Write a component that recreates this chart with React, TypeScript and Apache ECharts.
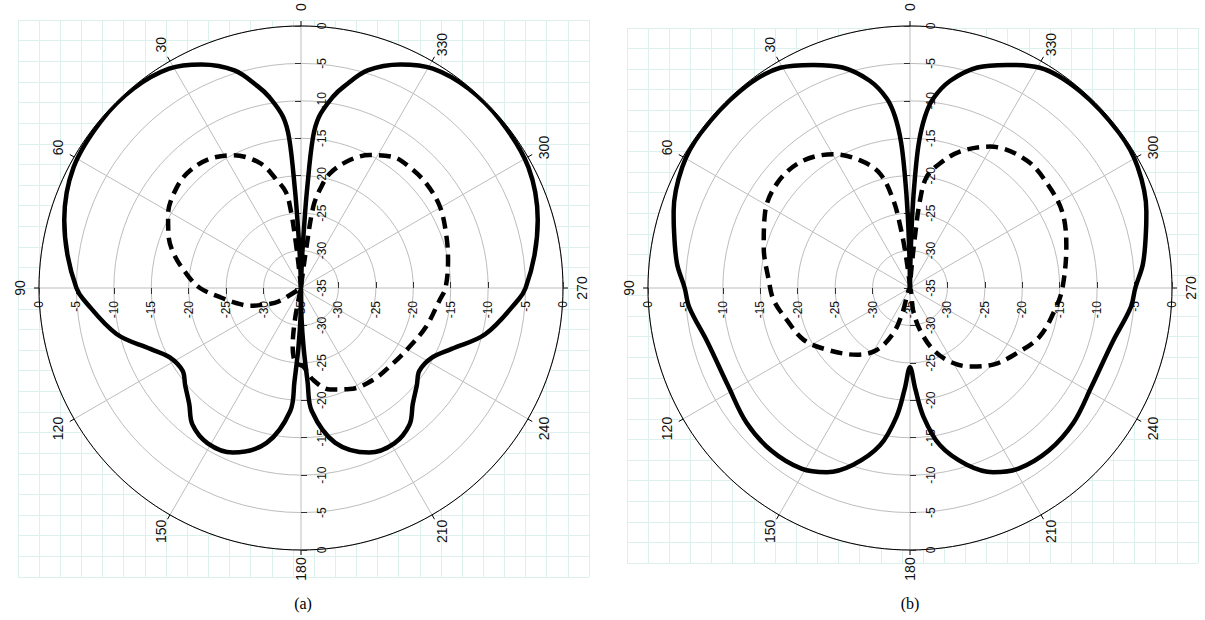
import { useEffect, useRef } from 'react';
import * as echarts from 'echarts';

// Angle tick labels (degrees, counter-clockwise from top)
const angleTicks = [0, 30, 60, 90, 120, 150, 180, 210, 240, 270, 300, 330];
const captions = ['(a)', '(b)'];

// (a) solid pattern
const aSolidAngles = [0, 2, 3, 3.5, 4.5, 6, 9.5, 12, 17, 24, 31, 40, 50, 62, 74, 82, 90, 93, 104, 112, 118, 125, 130, 136, 141.5, 149, 157.5, 167.5, 175, 176, 177.5, 179, 180,
  181, 182.5, 184, 185, 192.5, 202.5, 211, 218.5, 224, 230, 235, 242, 248, 256, 267, 270, 278, 286, 298, 310, 320, 329, 336, 343, 348, 350.5, 354, 355.5, 356.5, 357, 358, 360];
const aSolidValues = [-35, -31, -26, -22, -15, -12, -9.1, -7.5, -4.6, -2.3, -0.8, -0.2, -0.2, -0.6, -2.1, -3.5, -5.0, -5.9, -9.6, -13.3, -15.2, -15.7, -14.8, -13.5, -11.7, -10.8, -11.2, -13.8, -18.5, -22.5, -27, -31, -35,
  -31, -27, -22.5, -18.5, -13.8, -11.2, -10.8, -11.7, -13.5, -14.8, -15.7, -15.2, -13.3, -9.6, -5.9, -5.0, -3.5, -2.1, -0.6, -0.2, -0.2, -0.8, -2.3, -4.6, -7.5, -9.1, -12, -15, -22, -26, -31, -35];

// (a) dashed pattern
const aDashAngles = [0, 5, 6.5, 7.5, 9, 12.7, 18, 27, 36, 45, 53, 61, 68, 75, 83, 90, 97, 103, 109, 116, 121, 127, 166, 169, 172, 175, 178, 181.7, 187.6, 196, 205.8, 218.2, 230.8, 241.7, 252.9, 265.1, 270, 280.8, 290.6, 300.3, 309.8, 318.1, 324.9, 332.6, 339.1, 345.8, 349, 351.4, 352.5, 354, 360];
const aDashValues = [-35, -34, -29, -24.5, -22, -20.2, -17.5, -15.1, -13.8, -13.4, -13.8, -14.7, -15.9, -17.4, -19.6, -21.5, -24.3, -26.1, -27.7, -30.1, -31.5, -35, -35, -31, -27, -25.2, -24.8, -24.5, -22.6, -20.9, -20.0, -19.4, -19.1, -18.5, -17.5, -16.4, -15.7, -15.0, -14.3, -13.5, -13.2, -13.3, -13.6, -15.0, -16.7, -19.2, -21.5, -24.0, -30, -34, -35];

// (b) solid pattern
const bSolidAngles = [0, 1, 1.8, 2.6, 3.5, 5, 7, 11, 17, 23.5, 30.5, 41, 53.5, 62, 72, 76, 84, 90, 95, 105, 118.5, 129.5, 139.5, 149, 155.7, 162.2, 169.2, 174, 177, 180,
  183, 186, 190.8, 197.8, 204.3, 211, 220.5, 230.5, 241.5, 255, 265, 270, 276, 284, 288, 298, 306.5, 319, 329.5, 336.5, 343, 349, 353, 355, 356.5, 357.4, 358.2, 359, 360];
const bSolidValues = [-35, -31, -25, -20, -15.5, -12, -9.5, -6.8, -4.2, -2.5, -0.85, -0.25, -0.2, -0.55, -1.8, -2.5, -3.7, -4.9, -5.4, -7.0, -7.4, -6.7, -6.45, -6.85, -8.0, -10.2, -13.6, -17.7, -21.5, -24.4,
  -21.5, -17.7, -13.6, -10.2, -8.0, -6.85, -6.45, -6.7, -7.4, -7.0, -5.4, -4.9, -3.7, -2.5, -1.8, -0.55, -0.2, -0.25, -0.85, -2.5, -4.2, -6.8, -9.5, -12, -15.5, -20, -25, -31, -35];

// (b) dashed pattern
const bDashAngles = [0, 5, 7.5, 9, 10.7, 14.7, 21.3, 29.8, 41, 52, 62.7, 74.3, 86.8, 95, 104.5, 116, 126.7, 141.5, 151.8, 159.8, 163, 166, 185, 188, 193.4, 200.6, 208.5, 217.3, 227.3, 238.5, 249.5, 262.7, 270.5, 284.8, 296, 305.9, 317.6, 330.5, 339.9, 346.5, 351.5, 353.5, 354.5, 356, 360];
const bDashValues = [-35, -34, -30, -26.5, -23.1, -19.2, -16.7, -14.4, -12.7, -12.4, -13.2, -14.7, -16.1, -16.7, -18.0, -19.2, -21.2, -23.6, -25.6, -28.6, -31.5, -35, -35, -32, -29.2, -26.2, -23.8, -21.8, -19.9, -18.3, -16.5, -15.3, -14.6, -13.4, -12.3, -12.0, -11.9, -13.3, -15.6, -17.9, -20.0, -23.2, -28, -33, -35];

const FONT = 'Liberation Sans, Arial, sans-serif';
const RING = '#bdbdbd';
const GRIDLINE = '#dcf1ee';

const panels = [
  { center: [301, 288], radius: 262, solid: [aSolidAngles, aSolidValues], dash: [aDashAngles, aDashValues], cap: [303, 603],
    grid: { left: 18, top: 20, width: 571, height: 557 }, cols: 27, rows: 27 },
  { center: [910, 288], radius: 262, solid: [bSolidAngles, bSolidValues], dash: [bDashAngles, bDashValues], cap: [910, 603],
    grid: { left: 627, top: 28, width: 571, height: 535 }, cols: 27, rows: 26 },
];

function buildOption() {
  const polar: any[] = [];
  const angleAxis: any[] = [];
  const radiusAxis: any[] = [];
  const series: any[] = [];
  const grid: any[] = [];
  const xAxis: any[] = [];
  const yAxis: any[] = [];
  const graphic: any[] = [];

  const radialLabel = { rotate: 90, fontSize: 12, color: '#111', fontFamily: FONT };
  const tick = { show: true, length: 6, lineStyle: { color: '#333', width: 1 } };

  panels.forEach((p, k) => {
    const base = k * 4;
    // background paper grid
    grid.push({ ...p.grid });
    const hidden = { axisLine: { show: false }, axisTick: { show: false }, axisLabel: { show: false } };
    xAxis.push({ gridIndex: k, type: 'value', min: 0, max: p.cols, interval: 1, z: -5, ...hidden, splitLine: { show: true, lineStyle: { color: GRIDLINE, width: 1 } } });
    yAxis.push({ gridIndex: k, type: 'value', min: 0, max: p.rows, interval: 1, z: -5, ...hidden, splitLine: { show: true, lineStyle: { color: GRIDLINE, width: 1 } } });

    // four polars sharing the same centre: main (up), left, down, right
    const starts = [90, 180, 270, 0];
    starts.forEach((s, j) => {
      polar.push({ center: p.center, radius: p.radius });
      if (j === 0) {
        angleAxis.push({
          polarIndex: base, type: 'value', min: 0, max: 360, interval: 30, startAngle: 90, clockwise: false,
          axisLine: { show: true, lineStyle: { color: '#000', width: 1 } },
          axisTick: { show: true, length: 5, lineStyle: { color: '#000', width: 1 } },
          axisLabel: { show: false },
          splitLine: { show: true, lineStyle: { color: RING, width: 1 } },
          splitArea: { show: false },
        });
      } else if (j === 1) {
        // white disc behind the polar grid
        angleAxis.push({
          polarIndex: base + j, type: 'value', min: 0, max: 360, interval: 90, startAngle: s, clockwise: false, z: -2,
          axisLine: { show: false }, axisTick: { show: false }, axisLabel: { show: false }, splitLine: { show: false },
          splitArea: { show: true, areaStyle: { color: ['#ffffff'] } },
        });
      } else {
        angleAxis.push({ polarIndex: base + j, type: 'value', min: 0, max: 360, startAngle: s, clockwise: false, show: false });
      }
      const common: any = { polarIndex: base + j, type: 'value', min: -35, max: 0, interval: 5, axisLine: { show: false } };
      if (j === 0) {
        radiusAxis.push({ ...common, axisTick: { ...tick, inside: true }, axisLabel: { ...radialLabel, margin: -15, verticalAlign: 'top', align: 'center' },
          splitLine: { show: true, lineStyle: { color: RING, width: 1 } } });
      } else if (j === 1) {
        radiusAxis.push({ ...common, axisTick: tick, axisLabel: { ...radialLabel, margin: 13 }, splitLine: { show: false } });
      } else if (j === 2) {
        radiusAxis.push({ ...common, axisTick: tick, axisLabel: { ...radialLabel, margin: 15, showMinLabel: false }, splitLine: { show: false } });
      } else {
        radiusAxis.push({ ...common, axisTick: { ...tick, inside: true }, axisLabel: { ...radialLabel, margin: -13, align: 'right', verticalAlign: 'middle', showMinLabel: false }, splitLine: { show: false } });
      }
    });

    const [sa, sv] = p.solid;
    const [da, dv] = p.dash;
    series.push({
      type: 'line', coordinateSystem: 'polar', polarIndex: base, silent: true,
      data: sa.map((a, i) => [sv[i], a]), showSymbol: false, smooth: 0.35,
      lineStyle: { color: '#000', width: 4.5 }, z: 3,
    });
    series.push({
      type: 'line', coordinateSystem: 'polar', polarIndex: base, silent: true,
      data: da.map((a, i) => [dv[i], a]), showSymbol: false, smooth: 0.35,
      lineStyle: { color: '#000', width: 4.5, type: [12, 7], cap: 'butt' }, z: 3,
    });
    series.push({
      type: 'custom', coordinateSystem: 'polar', polarIndex: base, silent: true,
      data: angleTicks.map((a) => [0, a]),
      renderItem: (params: any, api: any) => {
        const ang = api.value(1);
        const pt = api.coord([api.value(0), ang]);
        const cs = params.coordSys;
        const dx = pt[0] - cs.cx;
        const dy = pt[1] - cs.cy;
        const len = Math.hypot(dx, dy) || 1;
        const off = 19;
        return {
          type: 'text', x: pt[0] + (dx / len) * off, y: pt[1] + (dy / len) * off, rotation: Math.PI / 2,
          style: { text: String(ang), align: 'center', verticalAlign: 'middle', fontSize: 14, fontFamily: FONT, fill: '#111' },
        };
      },
      z: 4,
    });

    graphic.push({
      type: 'text', x: p.cap[0], y: p.cap[1],
      style: { text: captions[k], align: 'center', verticalAlign: 'middle', fontSize: 16, fontFamily: 'Liberation Serif, Times New Roman, serif', fill: '#000' },
    });
  });

  return {
    animation: false,
    backgroundColor: '#ffffff',
    textStyle: { fontFamily: FONT },
    grid, xAxis, yAxis, polar, angleAxis, radiusAxis, series, graphic,
  };
}

export default function App() {
  const ref = useRef<HTMLDivElement>(null);
  useEffect(() => {
    if (!ref.current) return;
    const chart = echarts.init(ref.current, null, { renderer: 'svg' });
    chart.setOption(buildOption() as any);
    return () => chart.dispose();
  }, []);
  return <div ref={ref} style={{ position: 'fixed', left: 0, top: 0, width: 1205, height: 620, background: '#fff' }} />;
}
